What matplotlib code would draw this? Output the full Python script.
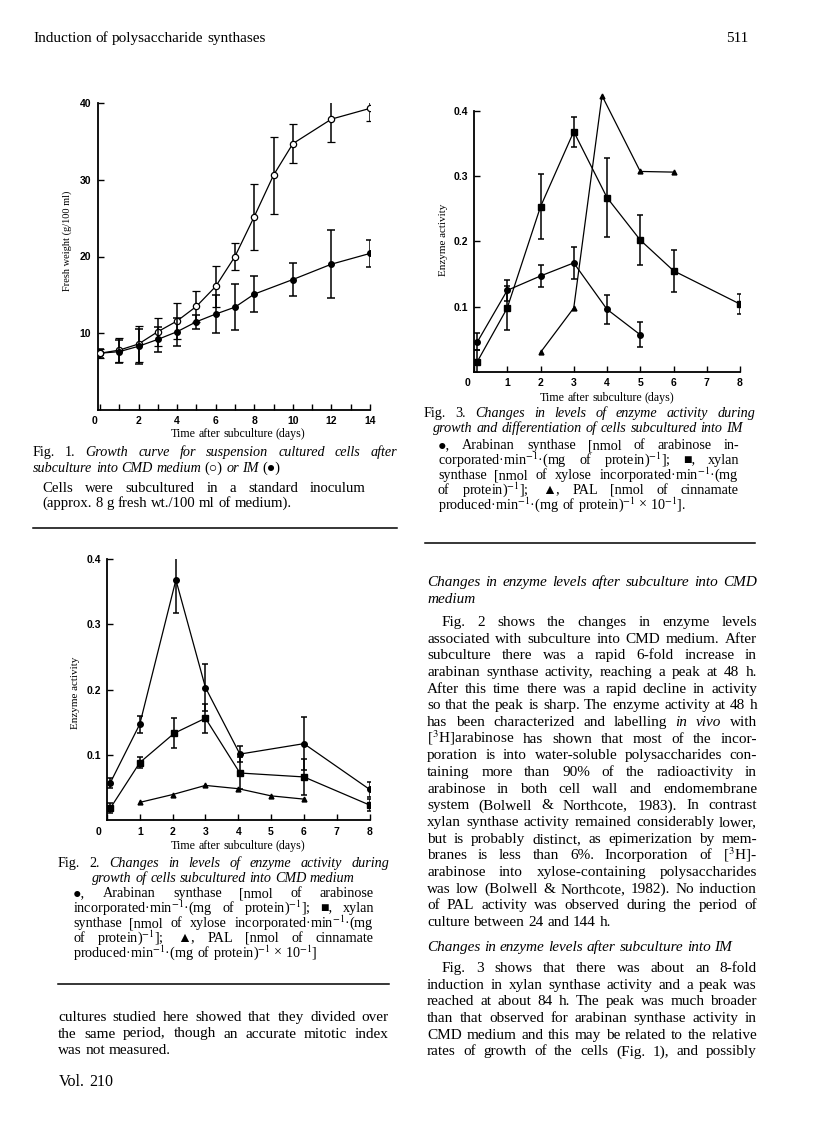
import matplotlib
matplotlib.use('Agg')
import matplotlib.pyplot as plt
from matplotlib.lines import Line2D
from matplotlib.transforms import IdentityTransform, ScaledTranslation

# Fig. 1 - fresh weight (g/100 ml) after subculture
fig1_days_cmd = [0, 1, 2, 3, 4, 5, 6, 7, 8, 9, 10, 12, 14]
fig1_cmd = [7.4, 7.8, 8.6, 10.2, 11.6, 13.5, 16.1, 20.0, 25.2, 30.6, 34.7, 37.9, 39.3]
fig1_cmd_err = [0.6, 1.6, 2.4, 1.8, 2.3, 2.0, 2.7, 1.7, 4.3, 5.0, 2.5, 3.0, 1.6]
fig1_days_im = [0, 1, 2, 3, 4, 5, 6, 7, 8, 10, 12, 14]
fig1_im = [7.4, 7.6, 8.3, 9.2, 10.2, 11.5, 12.5, 13.4, 15.1, 17.0, 19.0, 20.4]
fig1_im_err = [0.6, 1.5, 2.3, 1.6, 1.8, 0.9, 2.5, 3.0, 2.3, 2.2, 4.4, 1.8]

# Fig. 2 - CMD medium
fig2_arab_days = [0.1, 1, 2.1, 3, 4.05, 6, 8]
fig2_arab = [0.057, 0.147, 0.368, 0.203, 0.101, 0.117, 0.047]
fig2_arab_err = [0.008, 0.013, 0.05, 0.036, 0.012, 0.041, 0.011]
fig2_xyl_days = [0.1, 1, 2.05, 3, 4.05, 6, 8]
fig2_xyl = [0.018, 0.088, 0.133, 0.156, 0.072, 0.066, 0.023]
fig2_xyl_err = [0.008, 0.008, 0.023, 0.022, 0.025, 0.028, 0.009]
fig2_pal_days = [1, 2, 3, 4, 5, 6]
fig2_pal = [0.027, 0.039, 0.053, 0.048, 0.037, 0.032]

# Fig. 3 - IM
fig3_arab_days = [0.1, 1, 2, 3, 4, 5]
fig3_arab = [0.046, 0.125, 0.147, 0.167, 0.096, 0.057]
fig3_arab_err = [0.013, 0.016, 0.017, 0.024, 0.022, 0.019]
fig3_xyl_days = [0.1, 1, 2, 3, 4, 5, 6, 8]
fig3_xyl = [0.016, 0.098, 0.253, 0.368, 0.267, 0.202, 0.155, 0.104]
fig3_xyl_err = [0.017, 0.033, 0.05, 0.023, 0.06, 0.038, 0.032, 0.015]
fig3_pal_days = [2, 3, 3.85, 5, 6]
fig3_pal = [0.030, 0.098, 0.423, 0.307, 0.306]

W, H = 816, 1136
plt.rcParams['font.family'] = ['Liberation Sans', 'DejaVu Sans']
plt.rcParams['mathtext.fontset'] = 'stix'
SERIF = ['Liberation Serif', 'DejaVu Serif']

fig = plt.figure(figsize=(W / 100, H / 100), dpi=100)
fig.patch.set_facecolor('white')
renderer = fig.canvas.get_renderer()
PX = IdentityTransform()


def add_axes(left, right, top, bottom):
    ax = fig.add_axes([left / W, 1 - bottom / H, (right - left) / W, (bottom - top) / H])
    ax.patch.set_alpha(0)
    for s in ['top', 'right']:
        ax.spines[s].set_visible(False)
    for s in ['left', 'bottom']:
        ax.spines[s].set_linewidth(1.3)
    ax.tick_params(which='both', direction='in', length=4, width=1, labelsize=7.5, pad=4)
    return ax


def finish_ticks(ax, zero_shift):
    # bold labels, and the "0" of the day axis sits a little left of the corner
    for lab in ax.get_xticklabels() + ax.get_yticklabels():
        lab.set_fontweight('bold')
    first = ax.xaxis.get_major_ticks()[0].label1
    first.set_transform(first.get_transform() + ScaledTranslation(-zero_shift / 100, 0, fig.dpi_scale_trans))


def put_line(x0, x1, y, s, size, justify=True, align='left'):
    # draw one line of page text word by word, optionally justified
    texts = []
    italic = False
    for w in s.split(' '):
        this_it = italic
        if w.startswith('*'):
            w = w[1:]
            this_it = True
            italic = True
        if w.endswith('*'):
            w = w[:-1]
            italic = False
        t = fig.text(0, H - y, w, transform=PX, fontsize=size, family=SERIF,
                     style='italic' if this_it else 'normal', va='baseline')
        texts.append(t)
    widths = [t.get_window_extent(renderer).width for t in texts]
    gap = size * 100 / 72 * 0.25
    if justify and len(texts) > 1:
        gap = (x1 - x0 - sum(widths)) / (len(texts) - 1)
    total = sum(widths) + gap * (len(texts) - 1)
    x = x0 if align == 'left' else (x0 + x1 - total) / 2
    for t, w in zip(texts, widths):
        t.set_x(x)
        x += w + gap


def rule(x0, x1, y):
    fig.add_artist(Line2D([x0, x1], [H - y, H - y], transform=PX, color='black', lw=1.1))


ebkw = dict(color='black', lw=0.9, elinewidth=1.1, capthick=1.1)

# ---------------- Fig. 1 ----------------
ax1 = add_axes(98, 370, 103, 410)
ax1.errorbar(fig1_days_cmd, fig1_cmd, yerr=fig1_cmd_err, fmt='-o', ms=4.5, mfc='white',
             mec='black', mew=0.9, capsize=3, zorder=2, **ebkw)
ax1.errorbar(fig1_days_im, fig1_im, yerr=fig1_im_err, fmt='-o', ms=4, mfc='black',
             mec='black', capsize=3, zorder=3, **ebkw)
ax1.plot(fig1_days_cmd[:1], fig1_cmd[:1], 'o', ms=4.5, mfc='white', mec='black', mew=0.9, zorder=4)
ax1.set_xlim(-0.1, 14)
ax1.set_ylim(0, 40)
ax1.set_xticks(range(0, 15, 2))
ax1.set_xticks(range(1, 15, 2), minor=True)
ax1.set_yticks([10, 20, 30, 40])
ax1.tick_params(axis='y', pad=5)
finish_ticks(ax1, 5)
fig.text(67, H - 241, 'Fresh weight (g/100 ml)', transform=PX, rotation=90, family=SERIF,
         fontsize=7.5, ha='center', va='center')

# ---------------- Fig. 2 ----------------
ax2 = add_axes(107, 369.5, 559, 820)
ax2.errorbar(fig2_arab_days, fig2_arab, yerr=fig2_arab_err, fmt='-o', ms=4, capsize=2.2, **ebkw)
ax2.errorbar(fig2_xyl_days, fig2_xyl, yerr=fig2_xyl_err, fmt='-s', ms=3.8, capsize=2.2, **ebkw)
ax2.plot(fig2_pal_days, fig2_pal, '-^', color='black', lw=0.9, ms=3.5)
ax2.set_xlim(0, 8)
ax2.set_ylim(0, 0.4)
ax2.set_xticks(range(0, 9))
ax2.set_yticks([0.1, 0.2, 0.3, 0.4])
ax2.set_yticklabels(['0.1', '0.2', '0.3', '0.4'])
ax2.tick_params(axis='x', pad=5)
finish_ticks(ax2, 9)
fig.text(75, H - 693, 'Enzyme activity', transform=PX, rotation=90, family=SERIF,
         fontsize=8, ha='center', va='center')

# ---------------- Fig. 3 ----------------
ax3 = add_axes(474, 740, 110.7, 372)
ax3.errorbar(fig3_arab_days, fig3_arab, yerr=fig3_arab_err, fmt='-o', ms=4, capsize=2.2, **ebkw)
ax3.errorbar(fig3_xyl_days, fig3_xyl, yerr=fig3_xyl_err, fmt='-s', ms=3.8, capsize=2.2, **ebkw)
ax3.plot(fig3_pal_days, fig3_pal, '-^', color='black', lw=0.9, ms=3.5, clip_on=False)
ax3.set_xlim(0, 8)
ax3.set_ylim(0, 0.4)
ax3.set_xticks(range(0, 9))
ax3.set_yticks([0.1, 0.2, 0.3, 0.4])
ax3.set_yticklabels(['0.1', '0.2', '0.3', '0.4'])
finish_ticks(ax3, 7)
fig.text(443, H - 240, 'Enzyme activity', transform=PX, rotation=90, family=SERIF,
         fontsize=8, ha='center', va='center')

# ---------------- page text ----------------
BODY = 11.0
CAP = 10.2

put_line(33, 300, 42, 'Induction of polysaccharide synthases', 11, justify=False)
fig.text(748, H - 42, '511', transform=PX, fontsize=11, family=SERIF, ha='right', va='baseline')

# Fig. 1 caption
put_line(98, 378, 437, 'Time after subculture (days)', 8.6, justify=False, align='center')
put_line(33, 397, 456, 'Fig. 1. *Growth curve for suspension cultured cells after*', CAP)
put_line(33, 397, 472, '*subculture into CMD medium* (○) *or IM* (●)', CAP, justify=False)
put_line(42, 366, 492, 'Cells were subcultured in a standard inoculum', 10.6)
put_line(42, 397, 507, '(approx. 8 g fresh wt./100 ml of medium).', 10.6, justify=False)
rule(33, 397, 528)

# Fig. 2 caption
put_line(107, 369, 849, 'Time after subculture (days)', 8.6, justify=False, align='center')
put_line(58, 389, 867, 'Fig. 2. *Changes in levels of enzyme activity during*', CAP)
put_line(58, 389, 882, '*growth of cells subcultured into CMD medium*', CAP, justify=False, align='center')
fig2_legend = [
    '●, Arabinan synthase [nmol of arabinose',
    'incorporated·min$^{-1}$·(mg of protein)$^{-1}$]; ■, xylan',
    'synthase [nmol of xylose incorporated·min$^{-1}$·(mg',
    'of protein)$^{-1}$]; ▲, PAL [nmol of cinnamate',
]
for i, s in enumerate(fig2_legend):
    put_line(73, 374, 897 + 15 * i, s, CAP)
put_line(73, 374, 957, 'produced·min$^{-1}$·(mg of protein)$^{-1}$ × 10$^{-1}$]', CAP, justify=False)
rule(58, 389, 984)

left_body = [
    'cultures studied here showed that they divided over',
    'the same period, though an accurate mitotic index',
]
for i, s in enumerate(left_body):
    put_line(58, 389, 1021 + 16.5 * i, s, BODY)
put_line(58, 389, 1054, 'was not measured.', BODY, justify=False)
put_line(59, 389, 1086, 'Vol. 210', 11.5, justify=False)

# Fig. 3 caption
put_line(474, 740, 401, 'Time after subculture (days)', 8.6, justify=False, align='center')
put_line(424, 755, 417, 'Fig. 3. *Changes in levels of enzyme activity during*', CAP)
put_line(433, 743, 432, '*growth and differentiation of cells subcultured into IM*', CAP)
fig3_legend = [
    '●, Arabinan synthase [nmol of arabinose in-',
    'corporated·min$^{-1}$·(mg of protein)$^{-1}$]; ■, xylan',
    'synthase [nmol of xylose incorporated·min$^{-1}$·(mg',
    'of protein)$^{-1}$]; ▲, PAL [nmol of cinnamate',
]
for i, s in enumerate(fig3_legend):
    put_line(438, 739, 449 + 15 * i, s, CAP)
put_line(438, 739, 509, 'produced·min$^{-1}$·(mg of protein)$^{-1}$ × 10$^{-1}$].', CAP, justify=False)
rule(425, 755, 543)

# right column body
put_line(427, 757, 586, '*Changes in enzyme levels after subculture into CMD*', BODY)
put_line(427, 757, 603, '*medium*', BODY, justify=False)
body1 = [
    'Fig. 2 shows the changes in enzyme levels',
    'associated with subculture into CMD medium. After',
    'subculture there was a rapid 6-fold increase in',
    'arabinan synthase activity, reaching a peak at 48 h.',
    'After this time there was a rapid decline in activity',
    'so that the peak is sharp. The enzyme activity at 48 h',
    'has been characterized and labelling *in vivo* with',
    '[$^{3}$H]arabinose has shown that most of the incor-',
    'poration is into water-soluble polysaccharides con-',
    'taining more than 90% of the radioactivity in',
    'arabinose in both cell wall and endomembrane',
    'system (Bolwell & Northcote, 1983). In contrast',
    'xylan synthase activity remained considerably lower,',
    'but is probably distinct, as epimerization by mem-',
    'branes is less than 6%. Incorporation of [$^{3}$H]-',
    'arabinose into xylose-containing polysaccharides',
    'was low (Bolwell & Northcote, 1982). No induction',
    'of PAL activity was observed during the period of',
]
for i, s in enumerate(body1):
    put_line(442 if i == 0 else 427, 757, 626 + 16.67 * i, s, BODY)
put_line(427, 757, 626 + 16.67 * len(body1), 'culture between 24 and 144 h.', BODY, justify=False)

put_line(427, 757, 951, '*Changes in enzyme levels after subculture into IM*', BODY, justify=False)
body2 = [
    'Fig. 3 shows that there was about an 8-fold',
    'induction in xylan synthase activity and a peak was',
    'reached at about 84 h. The peak was much broader',
    'than that observed for arabinan synthase activity in',
    'CMD medium and this may be related to the relative',
    'rates of growth of the cells (Fig. 1), and possibly',
]
for i, s in enumerate(body2):
    put_line(442 if i == 0 else 427, 757, 972 + 16.67 * i, s, BODY)

fig.savefig('out.png', dpi=100, facecolor='white')
